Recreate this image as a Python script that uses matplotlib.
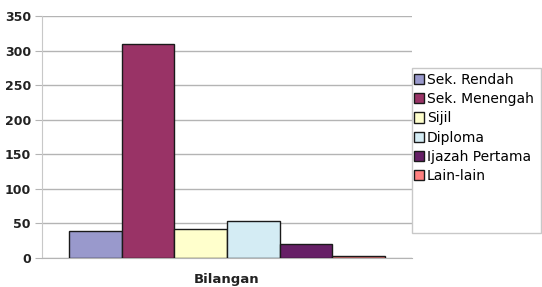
import matplotlib.pyplot as plt
from matplotlib.patches import Rectangle, Patch

# Data
categories = ['Sek. Rendah', 'Sek. Menengah', 'Sijil', 'Diploma', 'Ijazah Pertama', 'Lain-lain']
values = [39, 310, 42, 54, 20, 3]
colors = ['#9999CC', '#993366', '#FFFFCC', '#D4ECF4', '#661F66', '#FF8080']
group_label = 'Bilangan'
y_ticks = [0, 50, 100, 150, 200, 250, 300, 350]

fig = plt.figure(figsize=(5.42, 2.87), dpi=100)
ax = fig.add_axes([42 / 542, 1 - 258 / 287, 370 / 542, 242 / 287])

x = list(range(len(values)))
ax.bar(x, values, width=1.0, color=colors, edgecolor='#1a1a1a', linewidth=1.0, zorder=3)

ax.set_xlim(-1.012, 6.012)
ax.set_ylim(0, 350)
ax.set_yticks(y_ticks)
ax.set_yticklabels([str(t) for t in y_ticks], fontsize=9, fontweight='bold', color='#222222')
ax.set_xticks([])
ax.grid(axis='y', color='#b4b4b4', linewidth=1.0, zorder=0)
ax.tick_params(axis='y', length=5, color='#b4b4b4', pad=3)

for s in ['top', 'right']:
    ax.spines[s].set_visible(False)
ax.spines['left'].set_color('#c8c8c8')
ax.spines['bottom'].set_color('#b4b4b4')

ax.text(0.5, -0.06, group_label, transform=ax.transAxes, ha='center', va='top',
        fontsize=9.5, fontweight='bold', color='#222222')

# Legend frame
fig.patches.append(Rectangle((412 / 542, 1 - 233 / 287), 129 / 542, 165 / 287,
                             transform=fig.transFigure, facecolor='white',
                             edgecolor='#c8c8c8', linewidth=1.0, zorder=5))
handles = [Patch(facecolor=c, edgecolor='#1a1a1a', linewidth=1.0) for c in colors]
leg = fig.legend(handles, categories, loc='upper left',
                 bbox_to_anchor=(411 / 542, 1 - 70 / 287), frameon=False,
                 prop={'family': 'DejaVu Sans', 'size': 10},
                 handlelength=0.75, handleheight=0.75, handletextpad=0.2,
                 labelspacing=0.38, borderaxespad=0, borderpad=0.2)
leg.set_zorder(6)

fig.savefig('out.png', dpi=100)
